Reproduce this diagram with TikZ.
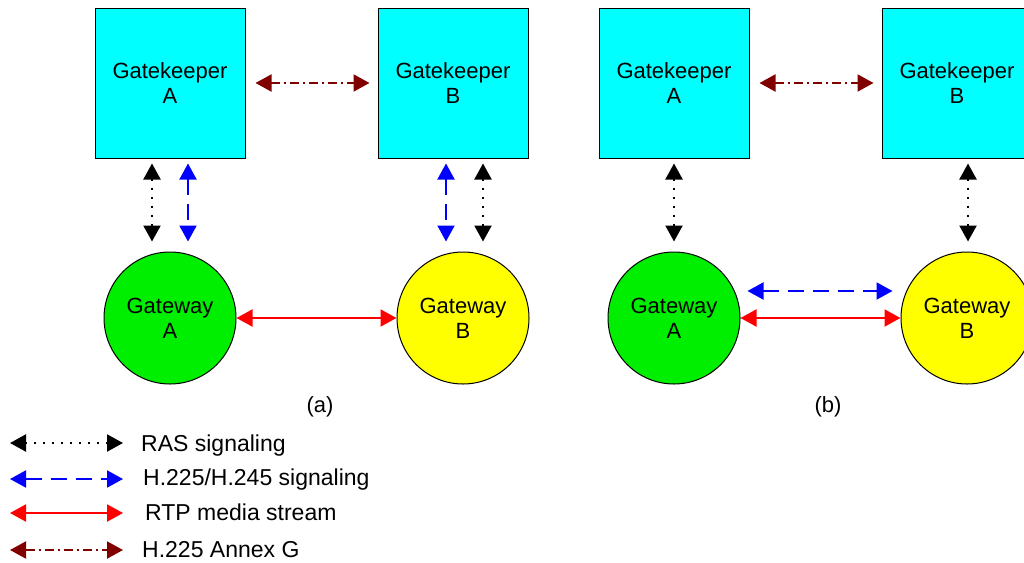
\documentclass[tikz,border=0pt]{standalone}
\usepackage{fontspec}
\setmainfont{Liberation Sans}
\usetikzlibrary{arrows.meta}

\definecolor{gkcyan}{RGB}{0,255,255}
\definecolor{gwgreen}{RGB}{0,238,0}
\definecolor{gwyellow}{RGB}{255,255,0}
\definecolor{annexbrown}{RGB}{128,0,0}

\tikzset{
  txt/.style={font=\fontsize{22}{25}\selectfont},
  legtxt/.style={font=\fontsize{23}{26}\selectfont, anchor=base west, inner sep=0pt},
  gatekeeper/.style={txt, draw=black, line width=1pt, fill=gkcyan,
    minimum size=150pt, inner sep=0pt, align=center},
  gateway/.style={txt, circle, draw=black, line width=1pt,
    minimum size=132pt, inner sep=0pt, align=center},
  tip/.style={{Triangle[length=16pt,width=17pt]}-{Triangle[length=16pt,width=17pt]}},
  ras/.style={tip, black, line width=2.2pt, dash pattern=on 2pt off 7pt},
  h225/.style={tip, blue, line width=2pt, dash pattern=on 16pt off 9pt},
  rtp/.style={tip, red, line width=2pt},
  annexg/.style={tip, annexbrown, line width=2pt,
    dash pattern=on 9pt off 4pt on 2pt off 4pt},
}

\begin{document}
\begin{tikzpicture}[x=1pt,y=-1pt]
\clip (0,0) rectangle (1024,562);

% (a)
\node[gatekeeper] (gkA) at (170,83) {Gatekeeper\\A};
\node[gatekeeper] (gkB) at (453,83) {Gatekeeper\\B};
\node[gateway, fill=gwgreen]  (gwA) at (170,318) {Gateway\\A};
\node[gateway, fill=gwyellow] (gwB) at (463,318) {Gateway\\B};
\node[txt] (capA) at (320,407) {(a)};

\draw[annexg, shorten <=10pt, shorten >=8pt] (gkA) -- (gkB);
\draw[rtp] (gwA) -- (gwB);
\draw[ras, shorten <=5pt, shorten >=10pt]
  ([xshift=-18pt]gwA.north |- gkA.south) -- ([xshift=-18pt]gwA.north);
\draw[h225, shorten <=5pt, shorten >=10pt]
  ([xshift=18pt]gwA.north |- gkA.south) -- ([xshift=18pt]gwA.north);
\draw[h225, shorten <=5pt, shorten >=10pt]
  ([xshift=-17pt]gwB.north |- gkB.south) -- ([xshift=-17pt]gwB.north);
\draw[ras, shorten <=5pt, shorten >=10pt]
  ([xshift=20pt]gwB.north |- gkB.south) -- ([xshift=20pt]gwB.north);

% (b)
\node[gatekeeper] (gkC) at (674,83) {Gatekeeper\\A};
\node[gatekeeper] (gkD) at (957,83) {Gatekeeper\\B};
\node[gateway, fill=gwgreen]  (gwC) at (674,318) {Gateway\\A};
\node[gateway, fill=gwyellow] (gwD) at (967,318) {Gateway\\B};
\node[txt] (capB) at (828,407) {(b)};

\draw[annexg, shorten <=10pt, shorten >=8pt] (gkC) -- (gkD);
\draw[rtp] (gwC) -- (gwD);
\draw[h225, shorten <=7pt, shorten >=8pt]
  ([yshift=27pt]gwC.east) -- ([yshift=27pt]gwD.west);
\draw[ras, shorten <=5pt, shorten >=10pt]
  (gwC.north |- gkC.south) -- (gwC.north);
\draw[ras, shorten <=5pt, shorten >=10pt]
  ([xshift=1pt]gwD.north |- gkD.south) -- ([xshift=1pt]gwD.north);

% legend
\coordinate (rasL) at (10,443);   \coordinate (rasR) at (123,443);
\coordinate (h225L) at (10,479);  \coordinate (h225R) at (123,479);
\coordinate (rtpL) at (10,513);   \coordinate (rtpR) at (123,513);
\coordinate (anxL) at (10,550);   \coordinate (anxR) at (123,550);
\draw[ras] (rasL) -- (rasR);
\draw[h225] (h225L) -- (h225R);
\draw[rtp] (rtpL) -- (rtpR);
\draw[annexg] (anxL) -- (anxR);
\node[legtxt] (rasT) at (141,451) {RAS signaling};
\node[legtxt] (h225T) at (143,485) {H.225/H.245 signaling};
\node[legtxt] (rtpT) at (145,520) {RTP media stream};
\node[legtxt] (anxT) at (142,557) {H.225 Annex G};
\end{tikzpicture}
\end{document}
